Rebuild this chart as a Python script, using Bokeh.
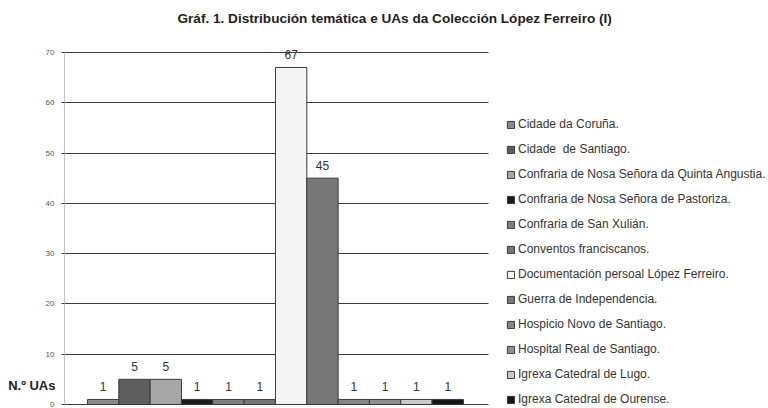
from bokeh.plotting import figure
from bokeh.models import (ColumnDataSource, Legend, LegendItem, Range1d, FixedTicker,
                          LinearAxis, Label)
from bokeh.core.properties import value
from bokeh.embed import file_html
from bokeh.resources import INLINE

title_text = "Gráf. 1. Distribución temática e UAs da Colección López Ferreiro (I)"
y_label = "N.º UAs"
y_label_pos = 3.78

categories = [
    "Cidade da Coruña.",
    "Cidade  de Santiago.",
    "Confraria de Nosa Señora da Quinta Angustia.",
    "Confraria de Nosa Señora de Pastoriza.",
    "Confraria de San Xulián.",
    "Conventos franciscanos.",
    "Documentación persoal López Ferreiro.",
    "Guerra de Independencia.",
    "Hospicio Novo de Santiago.",
    "Hospital Real de Santiago.",
    "Igrexa Catedral de Lugo.",
    "Igrexa Catedral de Ourense.",
]
counts = [1, 5, 5, 1, 1, 1, 67, 45, 1, 1, 1, 1]
colors = ["#8a8a8a", "#5e5e5e", "#a6a6a6", "#1a1a1a", "#7e7e7e", "#747474",
          "#f4f4f4", "#777777", "#858585", "#8e8e8e", "#cacaca", "#151515"]
y_ticks = [0, 10, 20, 30, 40, 50, 60, 70]

FONT = "Liberation Sans"
X0, X1 = -1.234, 21.237      # frame spans bars + legend area
GRID_END = 12.30             # gridlines stop before the legend
Y0, Y1 = -0.4, 80.32         # frame spans full height (title sits inside)

p = figure(width=768, height=408, output_backend="svg", toolbar_location=None,
           x_range=Range1d(X0, X1), y_range=Range1d(Y0, Y1),
           min_border_left=64, min_border_right=0, min_border_top=0,
           min_border_bottom=2)
p.outline_line_color = None
p.background_fill_color = "white"
p.xaxis.visible = False
p.xgrid.grid_line_color = None

p.yaxis.ticker = FixedTicker(ticks=y_ticks)
p.yaxis.bounds = (0, 70)
p.yaxis.axis_line_color = "#c4c4c4"
p.yaxis.major_tick_line_color = "#444444"
p.yaxis.major_tick_out = 3
p.yaxis.major_tick_in = 0
p.yaxis.minor_tick_line_color = None
p.yaxis.major_label_standoff = 7
p.yaxis.major_label_text_font = FONT
p.yaxis.major_label_text_font_size = "8px"
p.yaxis.major_label_text_color = "#555555"
p.ygrid.ticker = FixedTicker(ticks=y_ticks)
p.ygrid.grid_line_color = "#3a3a3a"
p.ygrid.grid_line_width = 1.2
p.ygrid.cross_bounds = (X0, GRID_END)

lab_axis = LinearAxis(ticker=FixedTicker(ticks=[y_label_pos]),
                      major_label_overrides={y_label_pos: y_label})
lab_axis.axis_line_color = None
lab_axis.major_tick_line_color = None
lab_axis.major_tick_out = 0
lab_axis.major_tick_in = 0
lab_axis.minor_tick_line_color = None
lab_axis.major_label_standoff = -13
lab_axis.major_label_text_font = FONT
lab_axis.major_label_text_font_size = "13px"
lab_axis.major_label_text_font_style = "bold"
lab_axis.major_label_text_color = "#222222"
p.add_layout(lab_axis, "left")

xs = list(range(len(categories)))
items = []
for i, (name, c, col) in enumerate(zip(categories, counts, colors)):
    src = ColumnDataSource(dict(x=[xs[i]], top=[c]))
    r = p.vbar(x="x", top="top", width=1.0, source=src, fill_color=col,
               line_color="#3a3a3a", line_width=1)
    items.append(LegendItem(label=name, renderers=[r]))

lab_src = ColumnDataSource(dict(x=xs, y=counts, t=[str(c) for c in counts]))
p.text(x="x", y="y", text="t", source=lab_src, text_align="center",
       text_baseline="middle", y_offset=-13, text_font=value(FONT),
       text_font_size="12px", text_color="#333333")

p.add_layout(Label(x=2.373, y=76.84, text=title_text, text_align="left",
                   text_baseline="middle", text_font=FONT,
                   text_font_size="13.6px", text_font_style="bold",
                   text_color="#222222"))

legend = Legend(items=items, location=(442, 0))
legend.label_text_font = FONT
legend.label_text_font_size = "12px"
legend.label_text_color = "#333333"
legend.glyph_width = 9
legend.glyph_height = 9
legend.label_height = 12
legend.label_standoff = 3
legend.spacing = 11
legend.padding = 0
legend.margin = 0
legend.border_line_color = None
legend.background_fill_alpha = 0
p.add_layout(legend, "center")

open("out.html", "w").write(file_html(p, INLINE))
